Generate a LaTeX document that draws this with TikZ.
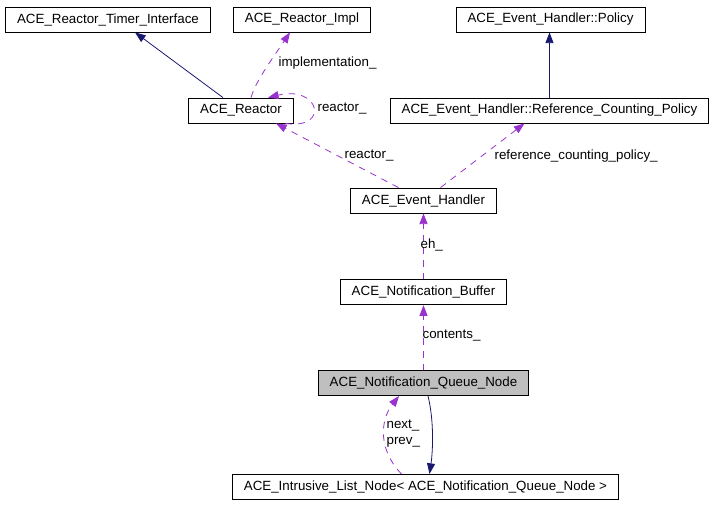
\documentclass[tikz,border=0pt]{standalone}
\usepackage{fontspec}
\setmainfont{Liberation Sans}
\usetikzlibrary{positioning,arrows.meta,calc}
\definecolor{DoxyNavy}{RGB}{25,25,112}
\definecolor{DoxyPurple}{RGB}{154,50,205}
\definecolor{FocusGray}{RGB}{191,191,191}
\tikzset{
  cls/.style={draw=black,fill=white,line width=0.6pt,inner xsep=8.6pt,inner ysep=0pt,
    minimum height=18.75pt,font=\fontsize{10}{12}\selectfont},
  focuscls/.style={cls,fill=FocusGray},
  inherit/.style={-{Triangle[length=8pt,width=6pt,fill=DoxyNavy]},line width=0.6pt,draw=DoxyNavy},
  usage/.style={-{Triangle[length=8pt,width=6pt,fill=DoxyPurple]},line width=0.6pt,draw=DoxyPurple,
    dash pattern=on 5pt off 4.5pt},
  lbl/.style={anchor=west,inner sep=1pt,align=left,font=\fontsize{10}{12}\selectfont}
}
\begin{document}
\begin{tikzpicture}[x=0.75pt,y=-0.75pt]
  \useasboundingbox (0,0) rectangle (713,504);
  % top row
  \node[cls] (timer) at (108,19.5) {ACE\_Reactor\_Timer\_Interface};
  \node[cls] (impl) at (302,19.5) {ACE\_Reactor\_Impl};
  \node[cls] (policy) at (550.5,19.5) {ACE\_Event\_Handler::Policy};
  % second row
  \node[cls] (reactor) at (241,110.5) {ACE\_Reactor};
  \node[cls] (rcpolicy) at (549.5,110.5) {ACE\_Event\_Handler::Reference\_Counting\_Policy};
  % main chain
  \node[cls] (handler) at (423.5,200.5) {ACE\_Event\_Handler};
  \node[cls,below=49.5pt of handler] (buffer) {ACE\_Notification\_Buffer};
  \node[focuscls,below=48.75pt of buffer] (qnode) {ACE\_Notification\_Queue\_Node};
  \node[cls,below=58.5pt of qnode,xshift=1.5pt] (ilist) {ACE\_Intrusive\_List\_Node< ACE\_Notification\_Queue\_Node >};

  % inheritance
  \draw[inherit] ($(reactor.north)+(-18,0)$) -- ($(timer.south)+(27,0)$);
  \draw[inherit] (rcpolicy.north) -- (rcpolicy.north |- policy.south);
  \draw[inherit] ($(qnode.south)+(4.5,0)$) .. controls (434,420) and (433,450) .. ($(ilist.north)+(4,0)$);

  % usage
  \draw[usage] ($(reactor.north)+(10,0)$) .. controls (256,80) and (275,55) .. ($(impl.south)+(-12,0)$);
  \node[lbl] (implLbl) at (277,63) {implementation\_};
  \draw[usage] ($(reactor.south east)+(-8,0)$) .. controls (330,130) and (320,85) .. ($(reactor.north)+(27,0)$);
  \node[lbl] (selfLbl) at (316,109) {reactor\_};
  \draw[usage] ($(handler.north)+(-25,0)$) -- ($(reactor.south)+(35,0)$);
  \node[lbl] (reactorLbl) at (343,156) {reactor\_};
  \draw[usage] ($(handler.north)+(17,0)$) -- ($(rcpolicy.south)+(-25,0)$);
  \node[lbl] (rcpLbl) at (493,156) {reference\_counting\_policy\_};
  \draw[usage] (buffer.north) -- (handler.south);
  \node[lbl] (ehLbl) at (419,245) {eh\_};
  \draw[usage] (qnode.north) -- (buffer.south);
  \node[lbl] (contentsLbl) at (421,336) {contents\_};
  \draw[usage] ($(ilist.north)+(-24,0)$) .. controls (378,450) and (380,420) .. ($(qnode.south)+(-24.5,0)$);
  \node[lbl] (nextLbl) at (385,434) {next\_\\prev\_};
\end{tikzpicture}
\end{document}
